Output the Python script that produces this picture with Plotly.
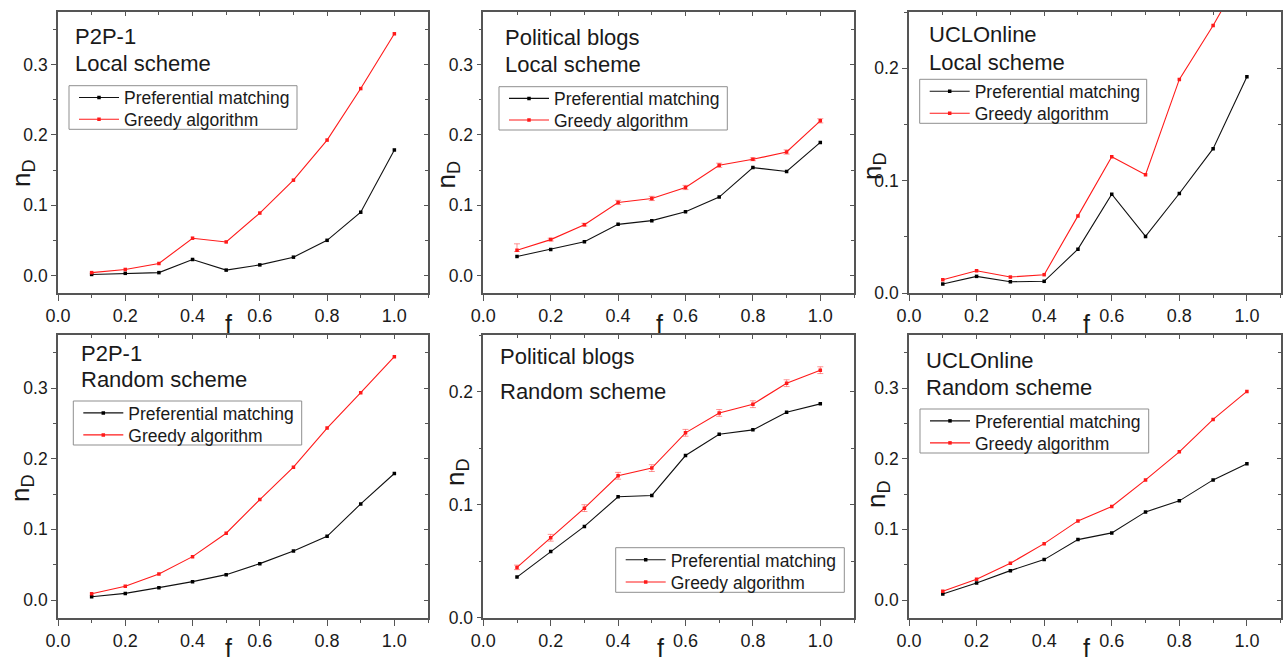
import plotly.graph_objects as go

# ---------------- data ----------------
f_values = [0.1, 0.2, 0.3, 0.4, 0.5, 0.6, 0.7, 0.8, 0.9, 1.0]

series_names = ["Preferential matching", "Greedy algorithm"]

dataset_names = ["P2P-1", "Political blogs", "UCLOnline"]
scheme_names = ["Local scheme", "Random scheme"]

# Local scheme
p2p_local_pm = [0.0014, 0.003, 0.004, 0.0227, 0.0076, 0.015, 0.026, 0.050, 0.090, 0.1786]
p2p_local_ga = [0.004, 0.0085, 0.017, 0.053, 0.0477, 0.0888, 0.1356, 0.1927, 0.266, 0.344]

blogs_local_pm = [0.027, 0.037, 0.048, 0.0727, 0.078, 0.0907, 0.1115, 0.1535, 0.148, 0.1894]
blogs_local_ga = [0.036, 0.051, 0.0723, 0.1039, 0.1096, 0.1252, 0.1568, 0.1653, 0.1757, 0.2201]
blogs_local_ga_err_plus = [0.009, 0.002, 0.002, 0.003, 0.003, 0.003, 0.003, 0.002, 0.003, 0.003]
blogs_local_ga_err_minus = [0.002, 0.002, 0.002, 0.003, 0.003, 0.003, 0.003, 0.002, 0.003, 0.003]

ucl_local_pm = [0.008, 0.0148, 0.010, 0.0104, 0.039, 0.0879, 0.0503, 0.0885, 0.1284, 0.1923]
ucl_local_ga = [0.0118, 0.0198, 0.0142, 0.0163, 0.0686, 0.1213, 0.1053, 0.190, 0.238, 0.291]

# Random scheme
p2p_random_pm = [0.0047, 0.0094, 0.0175, 0.026, 0.0359, 0.0515, 0.0694, 0.0902, 0.136, 0.179]
p2p_random_ga = [0.009, 0.0194, 0.0368, 0.0614, 0.0945, 0.1422, 0.188, 0.2433, 0.2933, 0.3444]

blogs_random_pm = [0.0359, 0.0586, 0.0807, 0.1069, 0.1081, 0.1434, 0.1623, 0.1661, 0.1817, 0.1891]
blogs_random_ga = [0.0445, 0.0707, 0.0969, 0.1255, 0.1323, 0.1635, 0.1811, 0.1888, 0.2074, 0.2189]
blogs_random_ga_err = [0.002, 0.003, 0.003, 0.003, 0.003, 0.003, 0.003, 0.003, 0.003, 0.003]

ucl_random_pm = [0.0085, 0.0241, 0.0416, 0.0572, 0.0855, 0.095, 0.1247, 0.1403, 0.170, 0.1927]
ucl_random_ga = [0.0123, 0.0293, 0.052, 0.0798, 0.112, 0.1323, 0.170, 0.2097, 0.2556, 0.2952]

x_tick_values = [0.0, 0.2, 0.4, 0.6, 0.8, 1.0]
x_title = "f"
y_title = "n<sub>D</sub>"

# ---------------- layout config ----------------
W, H = 1288, 663
FONT = "Arial, Liberation Sans, sans-serif"
FRAME = "#555555"
TXT = "#1a1a1a"
RED = "#ff1a1a"

col_px = [(58, 428), (483.3, 854), (909, 1280.7)]
row_px = [(12, 293), (335, 617.7)]

panels = [
    dict(r=0, c=0, ds=0, sc=0, pm=p2p_local_pm, ga=p2p_local_ga, ep=None, em=None,
         yr=[-0.025, 0.375], box=(69, 85.7, 297, 129.3), lab=(72.7, 36, 63), yt=(22.5, 172.5), xt=(228, 324)),
    dict(r=0, c=1, ds=1, sc=0, pm=blogs_local_pm, ga=blogs_local_ga, ep=blogs_local_ga_err_plus,
         em=blogs_local_ga_err_minus,
         yr=[-0.025, 0.375], box=(499, 86.7, 727.3, 130), lab=(502.7, 37, 64.7), yt=(447.5, 175), xt=(659, 324)),
    dict(r=0, c=2, ds=2, sc=0, pm=ucl_local_pm, ga=ucl_local_ga, ep=None, em=None,
         yr=[0, 0.25], box=(919.7, 79.3, 1146.7, 123.3), lab=(927.3, 34, 62), yt=(873, 166), xt=(1086, 324)),
    dict(r=1, c=0, ds=0, sc=1, pm=p2p_random_pm, ga=p2p_random_ga, ep=None, em=None,
         yr=[-0.025, 0.375], box=(73.3, 401, 301.7, 445), lab=(79.3, 353.3, 379), yt=(21, 488), xt=(228, None)),
    dict(r=1, c=1, ds=1, sc=1, pm=blogs_random_pm, ga=blogs_random_ga, ep=blogs_random_ga_err,
         em=blogs_random_ga_err,
         yr=[0, 0.25], box=(615.7, 547.7, 844.3, 592.3), lab=(498.3, 356.3, 391), yt=(456, 472), xt=(660, None)),
    dict(r=1, c=2, ds=2, sc=1, pm=ucl_random_pm, ga=ucl_random_ga, ep=None, em=None,
         yr=[-0.025, 0.375], box=(920, 409, 1148.7, 453), lab=(923.7, 360, 387.8), yt=(877, 494), xt=(1086, None)),
]


def px_x(v):
    return v / W


def px_y(v):
    return 1 - v / H


fig = go.Figure()
layout = dict(
    width=W, height=H,
    margin=dict(l=0, r=0, t=0, b=0, pad=0, autoexpand=False),
    paper_bgcolor="white", plot_bgcolor="white",
    font=dict(family=FONT, color=TXT),
    annotations=[], shapes=[],
)

for i, p in enumerate(panels):
    n = i + 1
    on = i + 7
    xs = "" if n == 1 else str(n)
    xd = [px_x(col_px[p["c"]][0]), px_x(col_px[p["c"]][1])]
    yd = [px_y(row_px[p["r"]][1]), px_y(row_px[p["r"]][0])]

    # main axes
    layout[f"xaxis{xs}"] = dict(
        domain=xd, range=[0, 1.1], anchor=f"y{xs}", automargin=False,
        tickvals=x_tick_values, tickformat=".1f",
        ticks="outside", ticklen=6, tickwidth=1.2, tickcolor=FRAME,
        minor=dict(dtick=0.1, tick0=0, ticks="outside", ticklen=3, tickwidth=1.2, tickcolor=FRAME),
        showline=True, linecolor=FRAME, linewidth=1.6, mirror=True,
        showgrid=False, zeroline=False,
        tickfont=dict(size=18, family=FONT, color=TXT),
        fixedrange=True,
    )
    layout[f"yaxis{xs}"] = dict(
        domain=yd, range=p["yr"], anchor=f"x{xs}", automargin=False,
        dtick=0.1, tick0=0, tickformat=".1f",
        ticks="outside", ticklen=5, tickwidth=1.2, tickcolor=FRAME,
        minor=dict(dtick=0.05, tick0=0, ticks="outside", ticklen=3, tickwidth=1.2, tickcolor=FRAME),
        showline=True, linecolor=FRAME, linewidth=1.6, mirror=True,
        showgrid=False, zeroline=False,
        tickfont=dict(size=17.5, family=FONT, color=TXT),
        fixedrange=True,
    )
    # overlay axes for inward ticks on top / right
    layout[f"xaxis{on}"] = dict(
        overlaying=f"x{xs}", side="top", anchor=f"y{xs}", range=[0, 1.1], automargin=False,
        tickvals=x_tick_values, ticks="inside", ticklen=4, tickwidth=1.2, tickcolor=FRAME,
        minor=dict(dtick=0.1, tick0=0, ticks="inside", ticklen=3, tickwidth=1.2, tickcolor=FRAME),
        showticklabels=False, showline=False, showgrid=False, zeroline=False, fixedrange=True,
    )
    layout[f"yaxis{on}"] = dict(
        overlaying=f"y{xs}", side="right", anchor=f"x{xs}", range=p["yr"], automargin=False,
        dtick=0.1, tick0=0, ticks="inside", ticklen=4, tickwidth=1.2, tickcolor=FRAME,
        minor=dict(dtick=0.05, tick0=0, ticks="inside", ticklen=3, tickwidth=1.2, tickcolor=FRAME),
        showticklabels=False, showline=False, showgrid=False, zeroline=False, fixedrange=True,
    )
    fig.add_trace(go.Scatter(x=[None], y=[None], xaxis=f"x{on}", yaxis=f"y{on}",
                             showlegend=False, hoverinfo="skip", mode="lines"))

    # legend frame + one single-entry legend per row
    bl, bt, br, bb = p["box"]
    layout["shapes"].append(dict(
        type="rect", xref="paper", yref="paper",
        x0=px_x(bl), x1=px_x(br), y0=px_y(bb), y1=px_y(bt),
        line=dict(color="#8f8f8f", width=1), fillcolor="white", layer="below",
    ))
    row_h = (bb - bt) / 2.0
    leg_keys = []
    for k in range(2):
        idx = 2 * i + k + 1
        key = "legend" if idx == 1 else f"legend{idx}"
        leg_keys.append(key)
        layout[key] = dict(
            x=px_x(bl + 5), y=px_y(bt + row_h * (k + 0.5) + 1), xanchor="left", yanchor="middle",
            bgcolor="rgba(0,0,0,0)", borderwidth=0,
            font=dict(size=17.5, family=FONT, color=TXT),
            itemwidth=40, tracegroupgap=0,
        )

    # data traces
    fig.add_trace(go.Scatter(
        x=f_values, y=p["pm"], name=series_names[0], mode="lines+markers",
        line=dict(color="#111111", width=1.1),
        marker=dict(symbol="square", size=3.5, color="#000000"),
        xaxis=f"x{xs}", yaxis=f"y{xs}", legend=leg_keys[0],
    ))
    ga_kwargs = {}
    if p["ep"] is not None:
        ga_kwargs["error_y"] = dict(type="data", array=p["ep"], arrayminus=p["em"], symmetric=False,
                                    color="rgba(255,60,60,0.55)", thickness=1, width=3)
    fig.add_trace(go.Scatter(
        x=f_values, y=p["ga"], name=series_names[1], mode="lines+markers",
        line=dict(color=RED, width=1.1),
        marker=dict(symbol="square", size=3.5, color=RED),
        xaxis=f"x{xs}", yaxis=f"y{xs}", legend=leg_keys[1], **ga_kwargs,
    ))

    # panel labels
    lx, ly1, ly2 = p["lab"]
    for txt, yy in ((dataset_names[p["ds"]], ly1), (scheme_names[p["sc"]], ly2)):
        layout["annotations"].append(dict(
            text=txt, xref="paper", yref="paper", x=px_x(lx), y=px_y(yy),
            xanchor="left", yanchor="middle", showarrow=False,
            font=dict(size=22, family=FONT, color=TXT),
        ))
    # axis titles
    layout["annotations"].append(dict(
        text=y_title, xref="paper", yref="paper", x=px_x(p["yt"][0]), y=px_y(p["yt"][1]),
        xanchor="center", yanchor="middle", showarrow=False, textangle=-90,
        font=dict(size=26, family=FONT, color=TXT),
    ))
    if p["xt"][1] is None:
        xt_pos = dict(y=0, yanchor="bottom")
    else:
        xt_pos = dict(y=px_y(p["xt"][1]), yanchor="middle")
    layout["annotations"].append(dict(
        text=x_title, xref="paper", yref="paper", x=px_x(p["xt"][0]),
        xanchor="center", showarrow=False, borderpad=0,
        font=dict(size=25, family=FONT, color=TXT), **xt_pos,
    ))

fig.update_layout(**layout)
fig.write_html("out.html")
